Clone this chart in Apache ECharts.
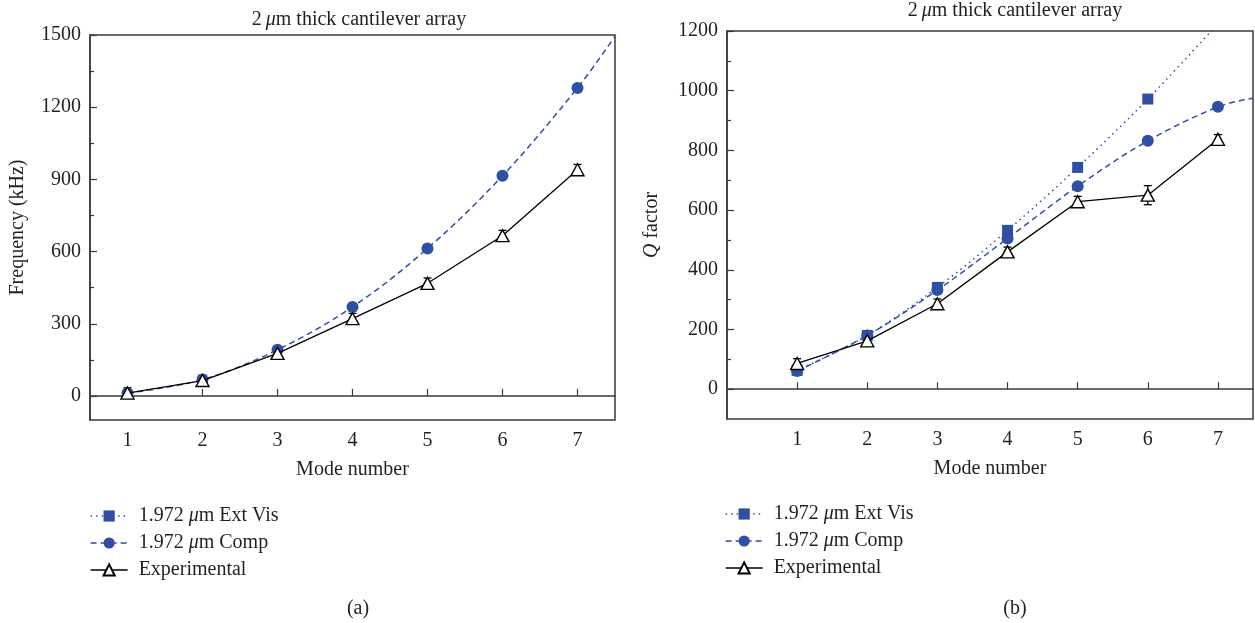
<!DOCTYPE html>
<html>
<head>
<meta charset="utf-8">
<script src="https://cdn.jsdelivr.net/npm/echarts@6/dist/echarts.min.js"></script>
<style>html,body{margin:0;padding:0;background:#fff}#c{width:1255px;height:623px}</style>
</head>
<body>
<div id="c"></div>
<script>
// ---- data ----
const modes = [1, 2, 3, 4, 5, 6, 7];
const xTicks = [1, 2, 3, 4, 5, 6, 7];
// (a) frequency (kHz)
const freqComp = [12, 68, 192, 370, 613, 915, 1280];
const freqCompTail = [7.5, 1495];           // fitted curve continues to the frame edge
const freqExp = [12, 64, 177, 321, 468, 666, 940];
const freqExpErr = [22, 22, 22, 22, 22, 22, 22];
const freqMajor = [0, 300, 600, 900, 1200, 1500];
const freqMinor = [150, 450, 750, 1050, 1350];
// (b) Q factor
const qExtVis = [63, 180, 341, 532, 743, 972, 1225];
const qComp = [61, 180, 332, 505, 680, 832, 946];
const qCompTail = [7.5, 975];
const qExp = [86, 162, 286, 460, 628, 650, 837];
const qExpErr = [16, 16, 16, 16, 18, 32, 16];
const qMajor = [0, 200, 400, 600, 800, 1000, 1200];
const qMinor = [100, 300, 500, 700, 900, 1100];

const NAME_EXT = '1.972 μm Ext Vis';
const NAME_COMP = '1.972 μm Comp';
const NAME_EXP = 'Experimental';

const BLUE = '#2f4fa5';
const INK = '#231f20';
const AX = '#3a3a3a';
const FONT = 'Liberation Serif';
const FS = 20;

const pts = (xs, ys) => xs.map((x, i) => [x, ys[i]]);
const withTail = (xs, ys, tail) => pts(xs, ys).concat([{ value: tail, symbol: 'none' }]);
const errData = (xs, ys, es) => xs.map((x, i) => [x, ys[i], es[i]]);
const plain = v => String(v);

function xAxisDef(gi, min) {
  return {
    type: 'value', gridIndex: gi, min: min, max: 7.5,
    name: 'Mode number', nameLocation: 'middle', nameGap: 40,
    nameTextStyle: { fontFamily: FONT, fontSize: FS, color: INK },
    axisLine: { show: true, lineStyle: { color: AX, width: 1.5 } },
    axisTick: { show: true, inside: true, length: 7, customValues: xTicks, lineStyle: { color: AX, width: 1.2 } },
    axisLabel: { show: true, margin: 11, customValues: xTicks, formatter: plain, fontFamily: FONT, fontSize: FS, color: INK },
    splitLine: { show: false }
  };
}
function yAxisDef(gi, min, max, major, nameText, gap) {
  return {
    type: 'value', gridIndex: gi, min: min, max: max, position: 'left',
    name: nameText, nameLocation: 'middle', nameGap: gap, nameRotate: 90,
    nameTextStyle: { fontFamily: FONT, fontSize: FS, color: INK, rich: { q: { fontFamily: FONT, fontSize: FS, fontStyle: 'italic', color: INK } } },
    axisLine: { show: true, lineStyle: { color: AX, width: 1.5 } },
    axisTick: { show: true, inside: true, length: 7, customValues: major, lineStyle: { color: AX, width: 1.2 } },
    axisLabel: { show: true, margin: 9, customValues: major, formatter: plain, fontFamily: FONT, fontSize: FS, color: INK },
    splitLine: { show: false }
  };
}
function yMinorDef(gi, min, max, minor) {
  return {
    type: 'value', gridIndex: gi, min: min, max: max, position: 'left', offset: 0,
    axisLine: { show: false },
    axisTick: { show: true, inside: true, length: 4, customValues: minor, lineStyle: { color: AX, width: 1.2 } },
    axisLabel: { show: false },
    splitLine: { show: false }
  };
}
function errSeries(xi, yi, data) {
  return {
    type: 'custom', xAxisIndex: xi, yAxisIndex: yi, clip: true, silent: true, z: 2,
    data: data,
    renderItem: function (params, api) {
      const x = api.value(0), y = api.value(1), e = api.value(2);
      const top = api.coord([x, y + e]);
      const bot = api.coord([x, y - e]);
      const w = 4;
      const st = { stroke: '#000', lineWidth: 1.3 };
      return {
        type: 'group',
        children: [
          { type: 'line', shape: { x1: top[0], y1: top[1], x2: bot[0], y2: bot[1] }, style: st },
          { type: 'line', shape: { x1: top[0] - w, y1: top[1], x2: top[0] + w, y2: top[1] }, style: st },
          { type: 'line', shape: { x1: bot[0] - w, y1: bot[1], x2: bot[0] + w, y2: bot[1] }, style: st }
        ]
      };
    }
  };
}
function compSeries(xi, yi, data) {
  return {
    name: NAME_COMP, type: 'line', xAxisIndex: xi, yAxisIndex: yi, data: data,
    smooth: 0.35, symbol: 'circle', symbolSize: 12, z: 3,
    lineStyle: { color: BLUE, width: 1.5, type: [6, 4] },
    itemStyle: { color: BLUE }
  };
}
function expSeries(xi, yi, data) {
  return {
    name: NAME_EXP, type: 'line', xAxisIndex: xi, yAxisIndex: yi, data: data,
    symbol: 'triangle', symbolSize: [13, 12], z: 4,
    lineStyle: { color: '#000', width: 1.3 },
    itemStyle: { color: '#fff', borderColor: '#000', borderWidth: 1.4 }
  };
}
function legendDef(left, top) {
  return {
    orient: 'vertical', left: left, top: top, padding: 0, itemWidth: 37, itemHeight: 14, itemGap: 7,
    data: [NAME_EXT, NAME_COMP, NAME_EXP],
    lineStyle: { width: 1.3 },
    textStyle: { fontFamily: FONT, fontSize: FS, color: INK, padding: [0, 0, 0, 6],
      rich: { i: { fontFamily: FONT, fontSize: FS, fontStyle: 'italic', color: INK } } },
    formatter: function (n) { return n.replace('μ', '{i|μ}'); },
    selectedMode: false
  };
}

const titleRich = { i: { fontFamily: FONT, fontSize: FS, fontStyle: 'italic', color: INK, fontWeight: 'normal' } };
const option = {
  backgroundColor: '#fff',
  animation: false,
  title: [
    { text: '2\u2009{i|μ}m thick cantilever array', left: 354, top: 5, textAlign: 'center',
      textStyle: { fontFamily: FONT, fontSize: FS, fontWeight: 'normal', color: INK, rich: titleRich } },
    { text: '2\u2009{i|μ}m thick cantilever array', left: 1010, top: -4, textAlign: 'center',
      textStyle: { fontFamily: FONT, fontSize: FS, fontWeight: 'normal', color: INK, rich: titleRich } },
    { text: '(a)', left: 353, top: 594, textAlign: 'center',
      textStyle: { fontFamily: FONT, fontSize: FS, fontWeight: 'normal', color: INK } },
    { text: '(b)', left: 1010, top: 594, textAlign: 'center',
      textStyle: { fontFamily: FONT, fontSize: FS, fontWeight: 'normal', color: INK } }
  ],
  legend: [legendDef(90, 506), legendDef(725, 504)],
  grid: [
    { left: 90, top: 35, width: 525, height: 385, show: true, borderColor: AX, borderWidth: 1.5, backgroundColor: 'transparent' },
    { left: 727, top: 31, width: 526, height: 388, show: true, borderColor: AX, borderWidth: 1.5, backgroundColor: 'transparent' }
  ],
  xAxis: [xAxisDef(0, 0.5), xAxisDef(1, 0)],
  yAxis: [
    yAxisDef(0, -100, 1500, freqMajor, 'Frequency (kHz)', 62),
    yMinorDef(0, -100, 1500, freqMinor),
    yAxisDef(1, -100, 1200, qMajor, '{q|Q} factor', 65),
    yMinorDef(1, -100, 1200, qMinor)
  ],
  series: [
    // (a)
    compSeries(0, 0, withTail(modes, freqComp, freqCompTail)),
    errSeries(0, 0, errData(modes, freqExp, freqExpErr)),
    expSeries(0, 0, pts(modes, freqExp)),
    // (b)
    {
      name: NAME_EXT, type: 'line', xAxisIndex: 1, yAxisIndex: 2, data: pts(modes, qExtVis),
      smooth: 0.35, symbol: 'rect', symbolSize: 11, z: 3,
      lineStyle: { color: BLUE, width: 1.5, type: [1.5, 4] },
      itemStyle: { color: BLUE }
    },
    compSeries(1, 2, withTail(modes, qComp, qCompTail)),
    errSeries(1, 2, errData(modes, qExp, qExpErr)),
    expSeries(1, 2, pts(modes, qExp))
  ]
};
const chart = echarts.init(document.getElementById('c'), null, { renderer: 'canvas' });
chart.setOption(option);
</script>
</body>
</html>
